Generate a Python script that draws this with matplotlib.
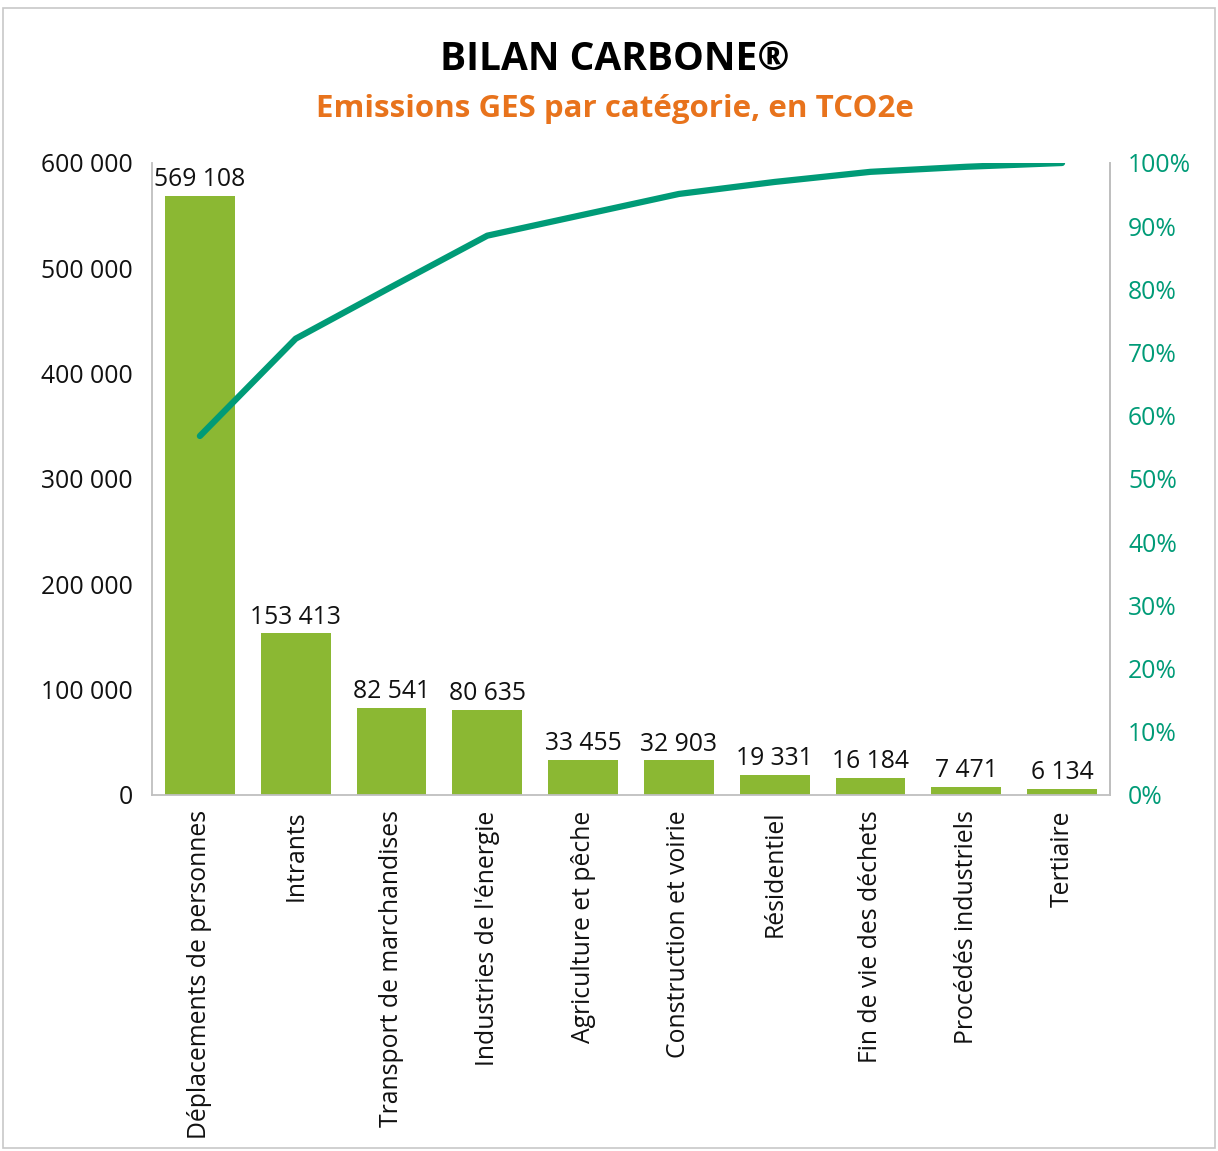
import matplotlib.pyplot as plt
from matplotlib.patches import Rectangle
from matplotlib.ticker import FuncFormatter, MultipleLocator

categories = [
    "Déplacements de personnes", "Intrants", "Transport de marchandises",
    "Industries de l'énergie", "Agriculture et pêche", "Construction et voirie",
    "Résidentiel", "Fin de vie des déchets", "Procédés industriels", "Tertiaire",
]
emissions = [569108, 153413, 82541, 80635, 33455, 32903, 19331, 16184, 7471, 6134]
cumulative_pct = [56.8, 72.2, 80.4, 88.5, 91.8, 95.1, 97.0, 98.6, 99.4, 100.0]

GREEN = "#8BB833"
TEAL = "#009B77"
ORANGE = "#E8731C"
GRID = "#BFBFBF"
FONT = "Open Sans"
FS = 17.8

plt.rcParams["font.family"] = [FONT, "DejaVu Sans"]


def fmt_num(v, _pos=None):
    return f"{int(v):,}".replace(",", " ")


fig = plt.figure(figsize=(12.18, 11.51), dpi=100)
ax = fig.add_axes([0.1248, 0.3093, 0.9113 - 0.1248, 0.8584 - 0.3093])

x = list(range(len(categories)))
ax.bar(x, emissions, width=0.73, color=GREEN, zorder=2)
for xi, v in zip(x, emissions):
    ax.text(xi, v + 3500, fmt_num(v), ha="center", va="bottom", fontsize=FS, color="#111111")

ax.set_xlim(-0.5, len(categories) - 0.5)
ax.set_ylim(0, 600000)
ax.yaxis.set_major_locator(MultipleLocator(100000))
ax.yaxis.set_major_formatter(FuncFormatter(fmt_num))
ax.set_xticks(x)
ax.set_xticklabels(categories, rotation=90, fontsize=FS)
ax.tick_params(axis="y", length=0, pad=14, labelsize=FS, labelcolor="#111111")
ax.tick_params(axis="x", length=0, pad=11, labelcolor="#111111")
for side in ["left", "bottom", "right"]:
    ax.spines[side].set_color(GRID)
    ax.spines[side].set_linewidth(1.3)
ax.spines["top"].set_visible(False)

ax2 = ax.twinx()
ax2.plot(x, cumulative_pct, color=TEAL, linewidth=4.5, solid_capstyle="round", zorder=3)
ax2.set_ylim(0, 100)
ax2.yaxis.set_major_locator(MultipleLocator(10))
ax2.yaxis.set_major_formatter(FuncFormatter(lambda v, _p: f"{int(v)}%"))
ax2.tick_params(axis="y", length=0, pad=13, labelsize=FS, labelcolor=TEAL)
for side in ["left", "bottom", "top"]:
    ax2.spines[side].set_visible(False)
ax2.spines["right"].set_color(GRID)
ax2.spines["right"].set_linewidth(1.3)

fig.text(0.505, 1 - 59 / 1151, "BILAN CARBONE®", ha="center", va="center",
         fontsize=28, fontweight="bold", color="#000000")
fig.text(0.505, 1 - 109 / 1151, "Emissions GES par catégorie, en TCO2e", ha="center", va="center",
         fontsize=22.5, fontweight="bold", color=ORANGE)

fig.patches.append(Rectangle((3 / 1218, 3 / 1151), 1 - 6 / 1218, 1 - 11 / 1151,
                             transform=fig.transFigure, fill=False, edgecolor="#C8C8C8", linewidth=1.2))

fig.savefig("out.png", dpi=100)
